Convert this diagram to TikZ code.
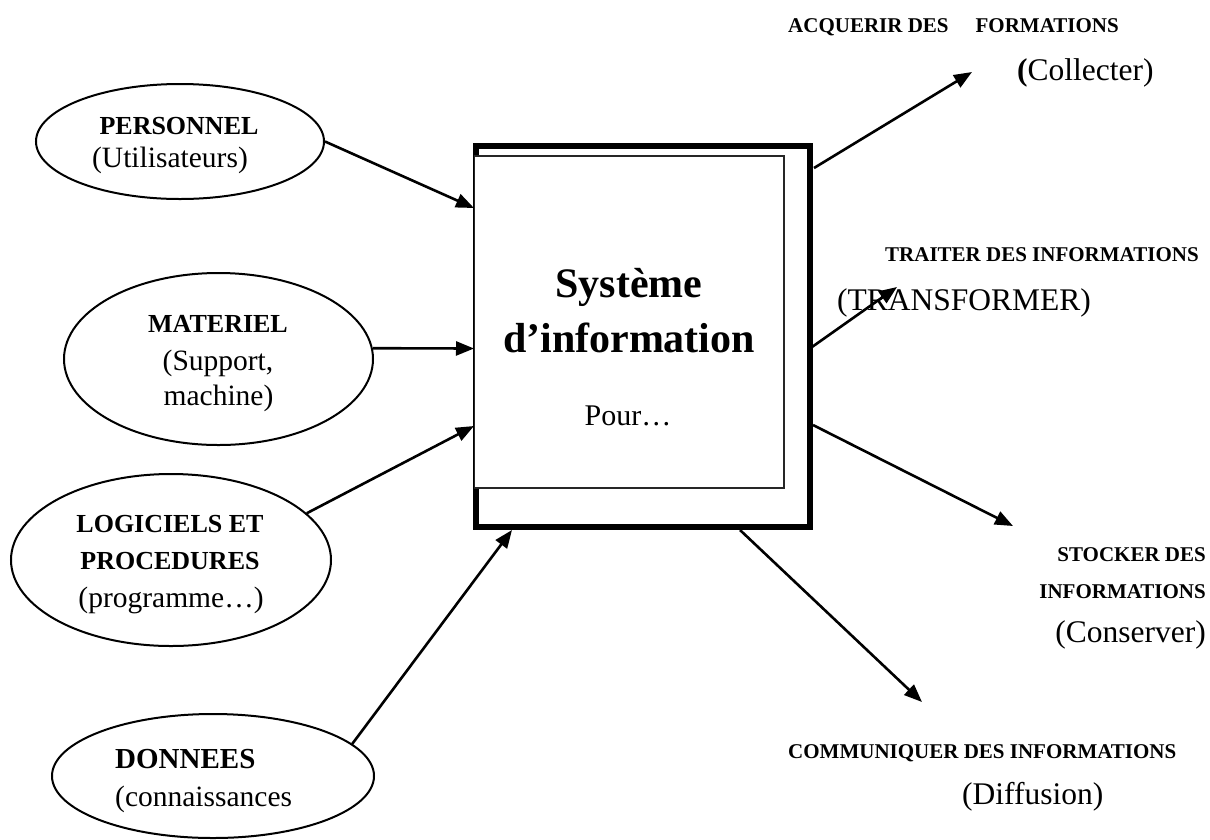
\documentclass[tikz,border=0pt]{standalone}
\usepackage{fontspec}
\setmainfont{Liberation Serif}
\usetikzlibrary{shapes.geometric,arrows.meta}

\tikzset{
  oval/.style={draw, ellipse, line width=2pt, inner sep=0pt},
  flow/.style={line width=2.6pt, -{Triangle[length=18pt,width=14pt]}},
  lbl/.style={inner sep=0pt, anchor=base},
  lblw/.style={inner sep=0pt, anchor=base west},
  lble/.style={inner sep=0pt, anchor=base east},
  tb/.style={font=\fontsize{26}{30}\selectfont\bfseries},
  tr/.style={font=\fontsize{29.5}{34}\selectfont},
  rb/.style={font=\fontsize{21}{25}\selectfont\bfseries},
  rr/.style={font=\fontsize{31.5}{36}\selectfont},
}

\begin{document}
\begin{tikzpicture}[x=1pt, y=-1pt]
\useasboundingbox (0,0) rectangle (1210,839);

% central system box: heavy frame with a white panel on top
\node[draw, line width=6.5pt, minimum width=334pt, minimum height=381pt, inner sep=0pt] (frame) at (643,336.5) {};
\node[draw=black!85, fill=white, line width=1.6pt, minimum width=309.5pt, minimum height=332pt, inner sep=0pt] (panel) at (629.25,322) {};
\node[lbl, font=\fontsize{42}{48}\selectfont\bfseries] (t1) at (629,297) {Système};
\node[lbl, font=\fontsize{42}{48}\selectfont\bfseries] (t2) at (629,352) {d’information};
\node[lbl, font=\fontsize{30}{34}\selectfont] (t3) at (628,425) {Pour…};

% resources on the left
\node[oval, minimum width=288pt, minimum height=115pt] (pers) at (180,141.5) {};
\node[lbl, tb] (pers1) at (179,134) {PERSONNEL};
\node[lbl, tr] (pers2) at (170,167) {(Utilisateurs)};

\node[oval, minimum width=309pt, minimum height=172pt] (mat) at (218.5,359) {};
\node[lbl, tb] (mat1) at (218,332) {MATERIEL};
\node[lbl, tr] (mat2) at (218,370) {(Support,};
\node[lbl, tr] (mat3) at (218.5,405) {machine)};

\node[oval, minimum width=320pt, minimum height=172pt] (log) at (171,560) {};
\node[lbl, tb] (log1) at (170,532) {LOGICIELS ET};
\node[lbl, tb] (log2) at (170,569) {PROCEDURES};
\node[lbl, tr] (log3) at (171,607) {(programme…)};

\node[oval, minimum width=322pt, minimum height=124pt] (don) at (213,776) {};
\node[lblw, font=\fontsize{29}{34}\selectfont\bfseries] (don1) at (115,768) {DONNEES};
\node[lblw, tr] (don2) at (115,806) {(connaissances};

% functions on the right
\node[lblw, rb] (acq1) at (788,32) {ACQUERIR DES\hspace*{27pt}FORMATIONS};
\node[lblw, rr] (acq2) at (1017,80) {{\bfseries(}Collecter)};
\node[lblw, rb] (tra1) at (885,261) {TRAITER DES INFORMATIONS};
\node[lblw, rr] (tra2) at (837,310) {(TRANSFORMER)};
\node[lble, rb] (sto1) at (1206,561) {STOCKER DES};
\node[lble, rb] (sto2) at (1206,598) {INFORMATIONS};
\node[lble, rr] (sto3) at (1206,642) {(Conserver)};
\node[lblw, rb] (com1) at (788,758) {COMMUNIQUER DES INFORMATIONS};
\node[lblw, rr] (com2) at (962,804) {(Diffusion)};

% attachment points on the frame and free arrow ends
\coordinate (inA) at (474,208);
\coordinate (inB) at (474,348.5);
\coordinate (inC) at (474,426);
\coordinate (inD) at (512,530);
\coordinate (outA) at (814,168);
\coordinate (outB) at (812,347);
\coordinate (outC) at (813,425);
\coordinate (outD) at (740,530);
\coordinate (endA) at (972,72);
\coordinate (endB) at (897,287);
\coordinate (endC) at (1013,526);
\coordinate (endD) at (922,702);

% inputs
\draw[flow] (pers.east) -- (inA);
\draw[flow] (mat.4) -- (inB);
\draw[flow] (log.19) -- (inC);
\draw[flow] (don.13) -- (inD);

% outputs
\draw[flow] (outA) -- (endA);
\draw[flow] (outB) -- (endB);
\draw[flow] (outC) -- (endC);
\draw[flow] (outD) -- (endD);
\end{tikzpicture}
\end{document}
